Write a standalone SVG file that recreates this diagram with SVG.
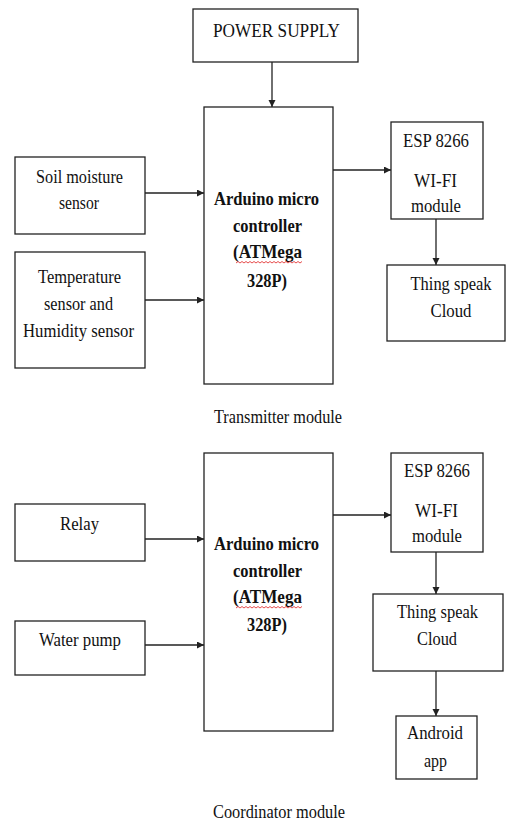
<svg xmlns="http://www.w3.org/2000/svg" width="507" height="823" viewBox="0 0 507 823">
<defs>
<style>
.box{fill:#fff;stroke:#222;stroke-width:1.3}
.t{font-family:"Liberation Serif","Times New Roman","DejaVu Serif",serif;font-size:19px;fill:#111;text-anchor:middle}
.b{font-weight:bold}
.c{stroke:#222;stroke-width:1.3;fill:none;marker-end:url(#ah)}
.sq{stroke:#e02020;stroke-width:0.8;fill:none}
</style>
<marker id="ah" markerUnits="userSpaceOnUse" markerWidth="8" markerHeight="8" refX="7" refY="3.5" orient="auto">
<path d="M0,0 L7,3.5 L0,7 z" fill="#222"/>
</marker>
</defs>
<rect width="507" height="823" fill="#fff"/>
<g id="connectors">
<line class="c" x1="272" y1="62" x2="272" y2="107"/>
<line class="c" x1="145" y1="193" x2="204" y2="193"/>
<line class="c" x1="145" y1="300" x2="204" y2="300"/>
<line class="c" x1="333" y1="170" x2="391" y2="170"/>
<line class="c" x1="436" y1="219" x2="436" y2="265"/>
<line class="c" x1="145" y1="539" x2="204" y2="539"/>
<line class="c" x1="145" y1="645" x2="204" y2="645"/>
<line class="c" x1="333" y1="515" x2="391" y2="515"/>
<line class="c" x1="436" y1="552" x2="436" y2="594"/>
<line class="c" x1="436" y1="671" x2="436" y2="716"/>
</g>
<g id="power">
<rect class="box" x="193" y="9" width="165" height="53"/>
<text class="t" x="276.5" y="37" textLength="127" lengthAdjust="spacingAndGlyphs">POWER SUPPLY</text>
</g>
<g id="arduino1">
<rect class="box" x="204" y="107" width="129" height="277"/>
<text class="t b" x="266.5" y="205" textLength="105" lengthAdjust="spacingAndGlyphs">Arduino micro</text>
<text class="t b" x="267.5" y="232" textLength="69" lengthAdjust="spacingAndGlyphs">controller</text>
<text class="t b" x="267.5" y="258" textLength="69" lengthAdjust="spacingAndGlyphs">(ATMega</text>
<path class="sq" d="M236,263 l2,-1.5 l2,1.5 l2,-1.5 l2,1.5 l2,-1.5 l2,1.5 l2,-1.5 l2,1.5 l2,-1.5 l2,1.5 l2,-1.5 l2,1.5 l2,-1.5 l2,1.5 l2,-1.5 l2,1.5 l2,-1.5 l2,1.5 l2,-1.5 l2,1.5 l2,-1.5 l2,1.5 l2,-1.5 l2,1.5 l2,-1.5 l2,1.5 l2,-1.5 l2,1.5 l2,-1.5 l2,1.5 l2,-1.5 l2,1.5 l2,-1.5"/>
<text class="t b" x="267" y="287" textLength="40" lengthAdjust="spacingAndGlyphs">328P)</text>
</g>
<g id="soil">
<rect class="box" x="15" y="157" width="130" height="77"/>
<text class="t" x="79.5" y="183" textLength="87" lengthAdjust="spacingAndGlyphs">Soil moisture</text>
<text class="t" x="79" y="209" textLength="40" lengthAdjust="spacingAndGlyphs">sensor</text>
</g>
<g id="temp">
<rect class="box" x="15" y="252" width="130" height="116"/>
<text class="t" x="79.5" y="283" textLength="83" lengthAdjust="spacingAndGlyphs">Temperature</text>
<text class="t" x="78.5" y="310" textLength="69" lengthAdjust="spacingAndGlyphs">sensor and</text>
<text class="t" x="78.5" y="337" textLength="111" lengthAdjust="spacingAndGlyphs">Humidity sensor</text>
</g>
<g id="esp1">
<rect class="box" x="391" y="122" width="92" height="97"/>
<text class="t" x="436" y="147" textLength="66" lengthAdjust="spacingAndGlyphs">ESP 8266</text>
<text class="t" x="435.5" y="187" textLength="43" lengthAdjust="spacingAndGlyphs">WI-FI</text>
<text class="t" x="436" y="212" textLength="50" lengthAdjust="spacingAndGlyphs">module</text>
</g>
<g id="thing1">
<rect class="box" x="387" y="265" width="118" height="76"/>
<text class="t" x="451" y="290" textLength="81" lengthAdjust="spacingAndGlyphs">Thing speak</text>
<text class="t" x="451" y="317" textLength="41" lengthAdjust="spacingAndGlyphs">Cloud</text>
</g>
<g id="label1">
<text class="t" x="278" y="423" textLength="128" lengthAdjust="spacingAndGlyphs">Transmitter module</text>
</g>
<g id="arduino2">
<rect class="box" x="204" y="453" width="129" height="278"/>
<text class="t b" x="266.5" y="550" textLength="105" lengthAdjust="spacingAndGlyphs">Arduino micro</text>
<text class="t b" x="267.5" y="577" textLength="69" lengthAdjust="spacingAndGlyphs">controller</text>
<text class="t b" x="267.5" y="603" textLength="69" lengthAdjust="spacingAndGlyphs">(ATMega</text>
<path class="sq" d="M236,608 l2,-1.5 l2,1.5 l2,-1.5 l2,1.5 l2,-1.5 l2,1.5 l2,-1.5 l2,1.5 l2,-1.5 l2,1.5 l2,-1.5 l2,1.5 l2,-1.5 l2,1.5 l2,-1.5 l2,1.5 l2,-1.5 l2,1.5 l2,-1.5 l2,1.5 l2,-1.5 l2,1.5 l2,-1.5 l2,1.5 l2,-1.5 l2,1.5 l2,-1.5 l2,1.5 l2,-1.5 l2,1.5 l2,-1.5 l2,1.5 l2,-1.5"/>
<text class="t b" x="267" y="631" textLength="40" lengthAdjust="spacingAndGlyphs">328P)</text>
</g>
<g id="relay">
<rect class="box" x="15" y="504" width="130" height="57"/>
<text class="t" x="79.5" y="530" textLength="39" lengthAdjust="spacingAndGlyphs">Relay</text>
</g>
<g id="pump">
<rect class="box" x="15" y="621" width="130" height="54"/>
<text class="t" x="80" y="646" textLength="82" lengthAdjust="spacingAndGlyphs">Water pump</text>
</g>
<g id="esp2">
<rect class="box" x="391" y="453" width="92" height="99"/>
<text class="t" x="437" y="477" textLength="66" lengthAdjust="spacingAndGlyphs">ESP 8266</text>
<text class="t" x="436.5" y="517" textLength="43" lengthAdjust="spacingAndGlyphs">WI-FI</text>
<text class="t" x="437" y="542" textLength="50" lengthAdjust="spacingAndGlyphs">module</text>
</g>
<g id="thing2">
<rect class="box" x="373" y="594" width="130" height="77"/>
<text class="t" x="437.5" y="618" textLength="81" lengthAdjust="spacingAndGlyphs">Thing speak</text>
<text class="t" x="437" y="645" textLength="40" lengthAdjust="spacingAndGlyphs">Cloud</text>
</g>
<g id="android">
<rect class="box" x="396" y="716" width="81" height="63"/>
<text class="t" x="435" y="739" textLength="56" lengthAdjust="spacingAndGlyphs">Android</text>
<text class="t" x="435.5" y="767" textLength="23" lengthAdjust="spacingAndGlyphs">app</text>
</g>
<g id="label2">
<text class="t" x="279" y="818" textLength="132" lengthAdjust="spacingAndGlyphs">Coordinator module</text>
</g>
</svg>
